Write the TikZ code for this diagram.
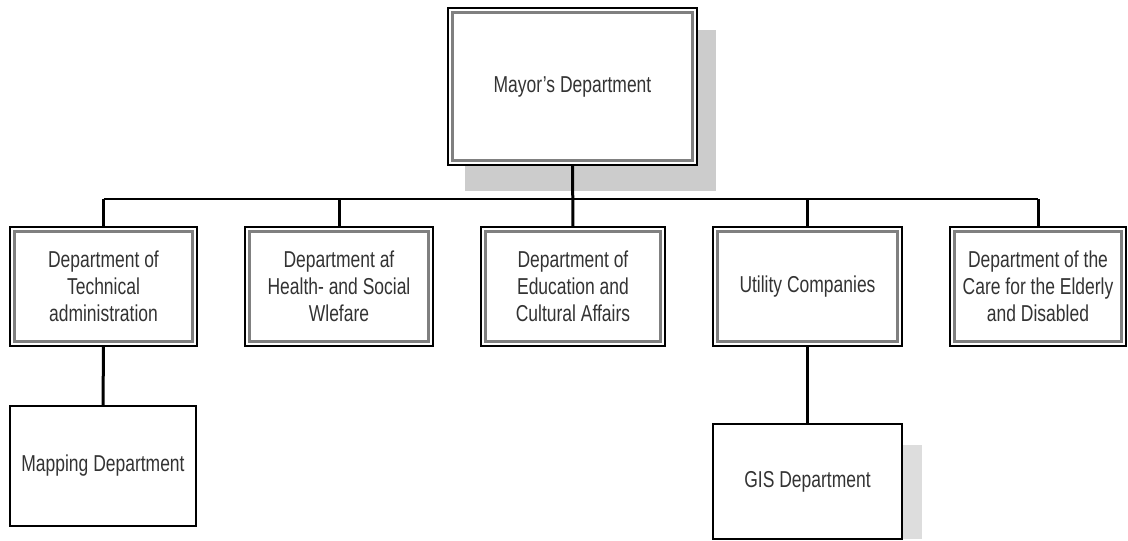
\documentclass[tikz,border=0pt]{standalone}
\usepackage{fontspec}
\setmainfont{Liberation Sans}[FakeStretch=0.76]
\definecolor{txt}{HTML}{333333}
\definecolor{band}{HTML}{808080}
\definecolor{shadowgray}{HTML}{CCCCCC}
\definecolor{lightshadow}{HTML}{DDDDDD}
\tikzset{
  orgbox/.style={draw=black, line width=1.6pt, fill=white, inner sep=0pt, outer sep=0pt,
    align=center, text=txt, font=\fontsize{23}{27}\selectfont,
    path picture={\draw[band, line width=3pt]
      ([shift={(4.5pt,4.5pt)}]path picture bounding box.south west) rectangle
      ([shift={(-4.5pt,-4.5pt)}]path picture bounding box.north east);}},
  plainbox/.style={draw=black, line width=1.6pt, fill=white, inner sep=0pt, outer sep=0pt,
    align=center, text=txt, font=\fontsize{23}{27}\selectfont},
  drop/.style={draw=black, line width=3pt},
  busline/.style={draw=black, line width=2pt},
}
\begin{document}
\begin{tikzpicture}[x=1pt,y=-1pt]
\useasboundingbox (0,0) rectangle (1128,541);
% shadows
\fill[shadowgray] (465,30) rectangle (716,191);
\fill[lightshadow] (902,445) rectangle (922,539);
% boxes
\node[orgbox, minimum width=249pt, minimum height=157pt] (mayor) at (572.5,86.5) {Mayor's Department};
\node[orgbox, minimum width=187pt, minimum height=119pt] (tech) at (103.5,286.5) {Department of\\Technical\\administration};
\node[orgbox, minimum width=188pt, minimum height=119pt] (health) at (339,286.5) {Department af\\Health- and Social\\Wlefare};
\node[orgbox, minimum width=184pt, minimum height=119pt] (edu) at (573,286.5) {Department of\\Education and\\Cultural Affairs};
\node[orgbox, minimum width=189pt, minimum height=119pt] (util) at (807.5,286.5) {Utility Companies};
\node[orgbox, minimum width=176pt, minimum height=119pt] (care) at (1038,286.5) {Department of the\\Care for the Elderly\\and Disabled};
\node[plainbox, minimum width=186pt, minimum height=120pt] (map) at (103,466) {Mapping Department};
\node[plainbox, minimum width=189pt, minimum height=115pt] (gis) at (807.5,481.5) {GIS Department};
% connectors
\coordinate (bus) at (0,199);
\draw[busline] (tech.north |- bus) -- (care.north |- bus);
\draw[drop] (mayor.south) -- (edu.north);
\draw[drop] (tech.north |- bus) -- (tech.north);
\draw[drop] (health.north |- bus) -- (health.north);
\draw[drop] (util.north |- bus) -- (util.north);
\draw[drop] (care.north |- bus) -- (care.north);
\draw[drop] (tech.south) -- (map.north);
\draw[drop] (util.south) -- (gis.north);
\end{tikzpicture}
\end{document}
